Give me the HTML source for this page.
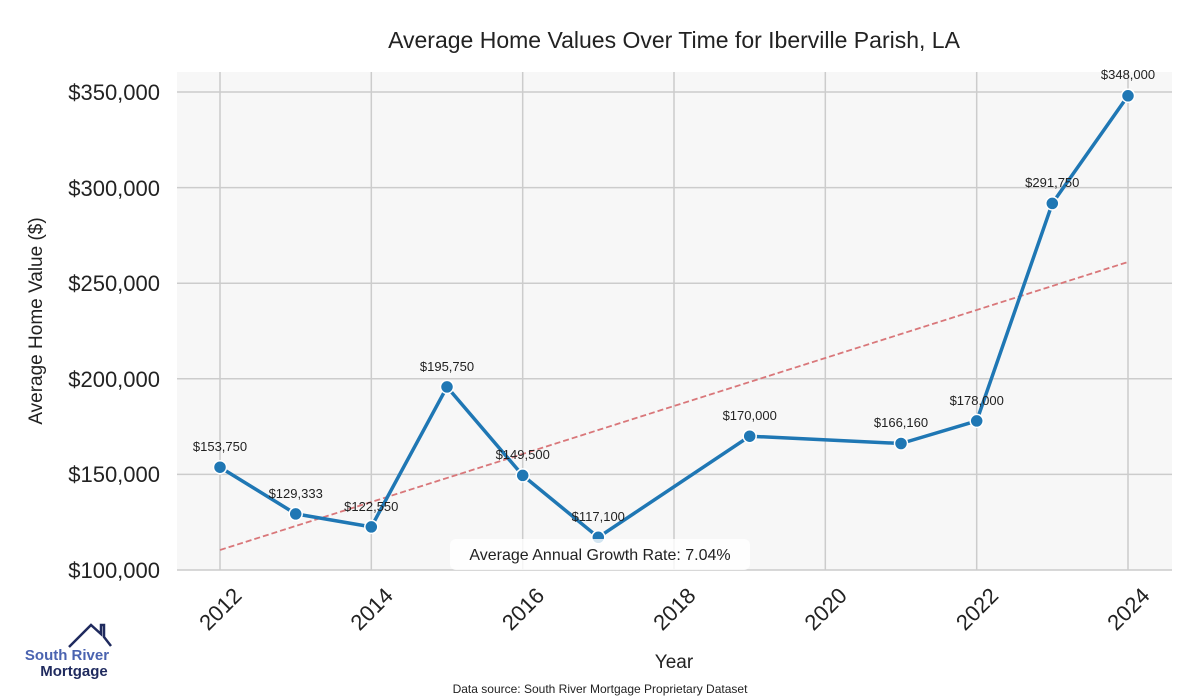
<!DOCTYPE html>
<html><head><meta charset="utf-8"><style>body{margin:0;background:#fff}svg{display:block}</style></head><body>
<svg width="1200" height="700" xmlns="http://www.w3.org/2000/svg" font-family="Liberation Sans, sans-serif">
<rect x="177" y="72" width="995" height="498" fill="#f7f7f7"/>
<g stroke="#cccccc" stroke-width="1.5">
<line x1="177" x2="1172" y1="92" y2="92"/><line x1="177" x2="1172" y1="187.6" y2="187.6"/><line x1="177" x2="1172" y1="283.2" y2="283.2"/><line x1="177" x2="1172" y1="378.8" y2="378.8"/><line x1="177" x2="1172" y1="474.4" y2="474.4"/><line x1="177" x2="1172" y1="570" y2="570"/>
<line x1="220" x2="220" y1="72" y2="570"/><line x1="371.3" x2="371.3" y1="72" y2="570"/><line x1="522.7" x2="522.7" y1="72" y2="570"/><line x1="674" x2="674" y1="72" y2="570"/><line x1="825.3" x2="825.3" y1="72" y2="570"/><line x1="976.7" x2="976.7" y1="72" y2="570"/><line x1="1128" x2="1128" y1="72" y2="570"/>
</g>
<text x="674" y="48" text-anchor="middle" font-size="23" fill="#222">Average Home Values Over Time for Iberville Parish, LA</text>
<g font-size="22" fill="#222" text-anchor="end">
<text x="160" y="100">$350,000</text><text x="160" y="196">$300,000</text><text x="160" y="291">$250,000</text><text x="160" y="387">$200,000</text><text x="160" y="482">$150,000</text><text x="160" y="578">$100,000</text>
</g>
<text transform="translate(42,321) rotate(-90)" text-anchor="middle" font-size="19" fill="#222">Average Home Value ($)</text>
<g font-size="22" fill="#222" text-anchor="end">
<text transform="translate(243,597) rotate(-45)">2012</text><text transform="translate(394.3,597) rotate(-45)">2014</text><text transform="translate(545.7,597) rotate(-45)">2016</text><text transform="translate(697,597) rotate(-45)">2018</text><text transform="translate(848.3,597) rotate(-45)">2020</text><text transform="translate(999.7,597) rotate(-45)">2022</text><text transform="translate(1151,597) rotate(-45)">2024</text>
</g>
<text x="674" y="668" text-anchor="middle" font-size="19" fill="#222">Year</text>
<text x="600" y="693" text-anchor="middle" font-size="12" fill="#222">Data source: South River Mortgage Proprietary Dataset</text>
<line x1="220" y1="550" x2="1128" y2="262" stroke="#d9777a" stroke-width="1.8" stroke-dasharray="6,3"/>
<polyline fill="none" stroke="#1f77b4" stroke-width="3.5" stroke-linejoin="round" points="220,467.2 295.7,513.9 371.3,526.9 447,386.9 522.7,475.4 598.3,537.3 749.7,436.2 901,443.5 976.7,420.9 1052.3,203.4 1128,95.8"/>
<g fill="#1f77b4" stroke="#fff" stroke-width="1.5">
<circle cx="220" cy="467.2" r="6.5"/><circle cx="295.7" cy="513.9" r="6.5"/><circle cx="371.3" cy="526.9" r="6.5"/><circle cx="447" cy="386.9" r="6.5"/><circle cx="522.7" cy="475.4" r="6.5"/><circle cx="598.3" cy="537.3" r="6.5"/><circle cx="749.7" cy="436.2" r="6.5"/><circle cx="901" cy="443.5" r="6.5"/><circle cx="976.7" cy="420.9" r="6.5"/><circle cx="1052.3" cy="203.4" r="6.5"/><circle cx="1128" cy="95.8" r="6.5"/>
</g>
<g font-size="13" fill="#222" text-anchor="middle">
<text x="220" y="451">$153,750</text><text x="295.7" y="498">$129,333</text><text x="371.3" y="511">$122,550</text><text x="447" y="371">$195,750</text><text x="522.7" y="459">$149,500</text><text x="598.3" y="521">$117,100</text><text x="749.7" y="420">$170,000</text><text x="901" y="427">$166,160</text><text x="976.7" y="405">$178,000</text><text x="1052.3" y="187">$291,750</text><text x="1128" y="79">$348,000</text>
</g>
<rect x="450" y="539" width="300" height="31" rx="6" fill="#fff" fill-opacity="0.8"/>
<text x="600" y="560" text-anchor="middle" font-size="16" fill="#222">Average Annual Growth Rate: 7.04%</text>
<polyline points="69,647 91,625 101,634 101,625 104,625 104,637 111,646" fill="none" stroke="#1f2a5e" stroke-width="2.5"/>
<text x="67" y="660" text-anchor="middle" font-size="15" font-weight="bold" fill="#4a63b0">South River</text>
<text x="74" y="676" text-anchor="middle" font-size="15" font-weight="bold" fill="#1f2a5e">Mortgage</text>
</svg>
</body></html>
